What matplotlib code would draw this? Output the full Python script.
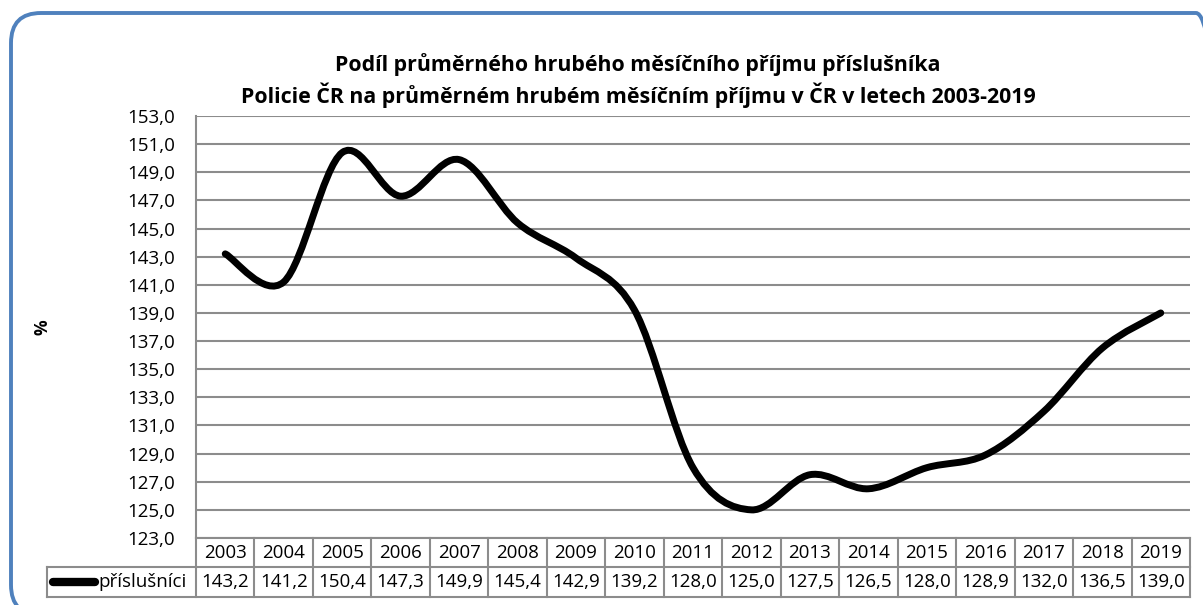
import matplotlib.pyplot as plt
import numpy as np
from matplotlib.path import Path
from matplotlib.patches import PathPatch, FancyBboxPatch
from matplotlib.lines import Line2D
from matplotlib.transforms import IdentityTransform

plt.rcParams['font.family'] = ['Open Sans', 'DejaVu Sans']

# data
years = ["2003", "2004", "2005", "2006", "2007", "2008", "2009", "2010", "2011",
         "2012", "2013", "2014", "2015", "2016", "2017", "2018", "2019"]
values = [143.2, 141.2, 150.4, 147.3, 149.9, 145.4, 142.9, 139.2, 128.0,
          125.0, 127.5, 126.5, 128.0, 128.9, 132.0, 136.5, 139.0]
series_name = "příslušníci"
title = ("Podíl průměrného hrubého měsíčního příjmu příslušníka\n"
         "Policie ČR na průměrném hrubém měsíčním příjmu v ČR v letech 2003-2019")
y_ticks = list(range(123, 154, 2))

W, H = 1203, 605
FS = 13.5
fig = plt.figure(figsize=(W / 100, H / 100), dpi=100)

# modrý zaoblený rámeček
frame = FancyBboxPatch((11, -10), 1215, H - 13 + 10, boxstyle="round,pad=0,rounding_size=30",
                       transform=IdentityTransform(), fill=False, edgecolor="#4f81bd", linewidth=2.8)
fig.patches.append(frame)

left, right, top, bottom = 196, 1190, 116, 538
ax = fig.add_axes([left / W, 1 - bottom / H, (right - left) / W, (bottom - top) / H])

n = len(values)
x = np.arange(n)
ax.set_xlim(-0.5, n - 0.5)
ax.set_ylim(123, 153)
ax.set_yticks(y_ticks)
ax.set_yticklabels([f"{t},0" for t in y_ticks], fontsize=FS)
ax.tick_params(axis="y", length=0, pad=15)
ax.set_xticks([])
ax.grid(axis="y", color="#8c8c8c", linewidth=1.5)
ax.set_axisbelow(True)
for s in ["top", "right", "bottom"]:
    ax.spines[s].set_visible(False)
ax.spines["left"].set_color("#8c8c8c")
ax.spines["left"].set_linewidth(1.5)

# vyhlazená čára (Bezier jako v Excelu)
pts = np.column_stack([x, values]).astype(float)
ext = np.vstack([pts[0], pts, pts[-1]])
verts = [tuple(pts[0])]
codes = [Path.MOVETO]
for i in range(n - 1):
    p0, p1, p2, p3 = ext[i], ext[i + 1], ext[i + 2], ext[i + 3]
    c1 = p1 + (p2 - p0) / 6
    c2 = p2 - (p3 - p1) / 6
    verts += [tuple(c1), tuple(c2), tuple(p2)]
    codes += [Path.CURVE4] * 3
ax.add_patch(PathPatch(Path(verts, codes), fill=False, edgecolor="black", linewidth=5,
                       capstyle="round", joinstyle="round"))

ax.set_ylabel("%", fontsize=12.5, fontweight="bold", labelpad=0)
ax.yaxis.set_label_coords((52 - left) / (right - left), 0.5)

fig.text(638 / W, 1 - 80.5 / H, title, ha="center", va="center", fontsize=15.4,
         fontweight="bold", linespacing=1.33)

# datová tabulka pod grafem
tr = IdentityTransform()
gc = "#8c8c8c"
r0, r1, r2 = H - 538, H - 567, H - 597
colw = (right - left) / n
lk = dict(color=gc, linewidth=1.5, transform=tr, clip_on=False)
fig.lines.append(Line2D([left, right], [r1, r1], **lk))
fig.lines.append(Line2D([47, right], [r2, r2], **lk))
fig.lines.append(Line2D([47, left], [r1, r1], **lk))
fig.lines.append(Line2D([47, 47], [r1, r2], **lk))
fig.lines.append(Line2D([right, right], [r0, r2], **lk))
fig.lines.append(Line2D([left, left], [r0, r2], **lk))
fig.lines.append(Line2D([left, right], [r0, r0], **lk))
for i in range(n):
    xl = left + i * colw
    if i > 0:
        fig.lines.append(Line2D([xl, xl], [r0, r2], **lk))
    xc = (xl + colw / 2) / W
    fig.text(xc, (r0 + r1) / 2 / H, years[i], ha="center", va="center", fontsize=FS)
    fig.text(xc, (r1 + r2) / 2 / H, f"{values[i]:.1f}".replace(".", ","),
             ha="center", va="center", fontsize=FS)
fig.lines.append(Line2D([53, 95], [(r1 + r2) / 2] * 2, color="black", linewidth=6,
                        solid_capstyle="round", transform=tr))
fig.text(98 / W, (r1 + r2) / 2 / H, series_name, ha="left", va="center", fontsize=FS)

fig.savefig("out.png", dpi=100)
